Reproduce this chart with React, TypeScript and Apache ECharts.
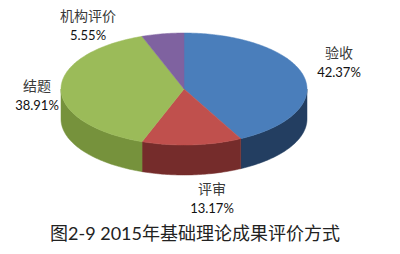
import React, { useEffect, useRef } from "react";
import * as echarts from "echarts";

// 2015年基础理论成果评价方式 (percent of results)
const categories = ["验收", "评审", "结题", "机构评价"];
const shares = [42.37, 13.17, 38.91, 5.55];
const titleText = "图2-9 2015年基础理论成果评价方式";

// Face colours: top of each slice, then its darker rim
const topColors = ["#4a7ebb", "#c0504d", "#9bbb59", "#7f62a0"];
const sideColors = ["#233e61", "#752c2b", "#76923c", "#5a4476"];

// Pie geometry (px) and label anchors
const PIE = { cx: 184, cy: 89, rx: 123, ry: 56, depth: 30 };
const LABEL_AT = [
  [339, 62],
  [212, 198],
  [37, 95],
  [88, 25],
];

const FONT_CN = "'Noto Sans CJK SC', sans-serif";
const FONT_NUM = "Lato, 'Noto Sans CJK SC', sans-serif";

function rimPoint(deg: number, drop: number): number[] {
  const r = (deg * Math.PI) / 180;
  return [PIE.cx + PIE.rx * Math.sin(r), PIE.cy - PIE.ry * Math.cos(r) + drop];
}

function arc(a0: number, a1: number, drop: number): number[][] {
  const pts: number[][] = [];
  const n = Math.max(2, Math.ceil(Math.abs(a1 - a0)));
  for (let k = 0; k <= n; k++) pts.push(rimPoint(a0 + ((a1 - a0) * k) / n, drop));
  return pts;
}

export default function App() {
  const ref = useRef<HTMLDivElement>(null);

  useEffect(() => {
    if (!ref.current) return;
    const chart = echarts.init(ref.current, undefined, { renderer: "svg" });
    const total = shares.reduce((s, v) => s + v, 0);

    const renderItem = (params: any, api: any) => {
      const i = params.dataIndex;
      const value = api.value(0);
      let before = 0;
      for (let j = 0; j < i; j++) before += shares[j];
      const a0 = (before / total) * 360;
      const a1 = ((before + value) / total) * 360;

      const children: any[] = [];

      // visible front rim (between 3 and 9 o'clock)
      const s0 = Math.max(a0, 90);
      const s1 = Math.min(a1, 270);
      if (s1 > s0) {
        const upper = arc(s0, s1, 0);
        const lower = arc(s1, s0, PIE.depth);
        children.push({
          type: "polygon",
          shape: { points: upper.concat(lower) },
          style: { fill: sideColors[i], stroke: sideColors[i], lineWidth: 0.5 },
        });
      }

      // top face
      children.push({
        type: "polygon",
        shape: { points: [[PIE.cx, PIE.cy]].concat(arc(a0, a1, 0)) },
        style: { fill: topColors[i], stroke: topColors[i], lineWidth: 0.5 },
      });

      // category + percentage label
      const [lx, ly] = LABEL_AT[i];
      children.push({
        type: "text",
        x: lx,
        y: ly,
        style: {
          text: `{cn|${categories[i]}}\n{num|${value.toFixed(2)}%}`,
          align: "center",
          verticalAlign: "middle",
          rich: {
            cn: { fontFamily: FONT_CN, fontSize: 14, fill: "#3a3a3a", lineHeight: 20, align: "center" },
            num: { fontFamily: FONT_NUM, fontSize: 13, fill: "#111", lineHeight: 20, align: "center" },
          },
        },
      });

      return { type: "group", children };
    };

    chart.setOption({
      animation: false,
      backgroundColor: "#ffffff",
      title: {
        text: titleText,
        left: 190,
        top: 228,
        textAlign: "center",
        textVerticalAlign: "middle",
        textStyle: {
          fontFamily: FONT_NUM,
          fontSize: 18,
          fontWeight: "normal",
          color: "#222",
        },
      },
      series: [
        {
          type: "custom",
          coordinateSystem: "none",
          renderItem,
          data: shares.map((v, i) => ({ name: categories[i], value: [v] })),
        },
      ],
    });

    return () => chart.dispose();
  }, []);

  return (
    <div
      ref={ref}
      style={{ position: "fixed", left: 0, top: 0, width: 400, height: 254, background: "#fff" }}
    />
  );
}
